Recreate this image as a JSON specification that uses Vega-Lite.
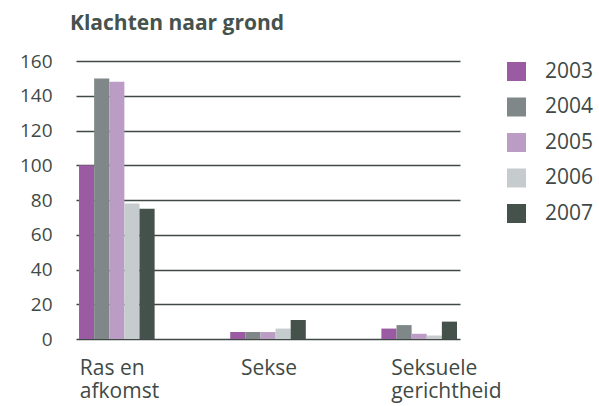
{
  "$schema": "https://vega.github.io/schema/vega-lite/v6.json",
  "width": 384,
  "height": 278,
  "autosize": "none",
  "padding": {"left": 76, "top": 61, "right": 139, "bottom": 67},
  "background": "white",
  "title": {"text": "Klachten naar grond", "anchor": "start", "frame": "group", "font": "Open Sans", "fontSize": 21, "fontWeight": "bold", "color": "#46524d", "dx": -6, "offset": 18},
  "config": {"view": {"stroke": null}},
  "data": {"values": [
    {"grond": "Ras en afkomst", "jaar": "2003", "aantal": 100},
    {"grond": "Ras en afkomst", "jaar": "2004", "aantal": 150},
    {"grond": "Ras en afkomst", "jaar": "2005", "aantal": 148},
    {"grond": "Ras en afkomst", "jaar": "2006", "aantal": 78},
    {"grond": "Ras en afkomst", "jaar": "2007", "aantal": 75},
    {"grond": "Sekse", "jaar": "2003", "aantal": 4},
    {"grond": "Sekse", "jaar": "2004", "aantal": 4},
    {"grond": "Sekse", "jaar": "2005", "aantal": 4},
    {"grond": "Sekse", "jaar": "2006", "aantal": 6},
    {"grond": "Sekse", "jaar": "2007", "aantal": 11},
    {"grond": "Seksuele gerichtheid", "jaar": "2003", "aantal": 6},
    {"grond": "Seksuele gerichtheid", "jaar": "2004", "aantal": 8},
    {"grond": "Seksuele gerichtheid", "jaar": "2005", "aantal": 3},
    {"grond": "Seksuele gerichtheid", "jaar": "2006", "aantal": 2},
    {"grond": "Seksuele gerichtheid", "jaar": "2007", "aantal": 10}
  ]},
  "mark": {"type": "bar"},
  "encoding": {
    "x": {
      "field": "grond", "type": "nominal",
      "sort": ["Ras en afkomst", "Sekse", "Seksuele gerichtheid"],
      "scale": {"paddingInner": 0.5, "paddingOuter": 0.02},
      "axis": {
        "title": null, "labelAngle": 0, "domain": false, "ticks": false,
        "labelFont": "Open Sans", "labelFontSize": 21, "labelColor": "#3f4a46",
        "labelAlign": "left", "labelBaseline": "top", "labelPadding": 18, "labelLineHeight": 23,
        "labelOffset": {"expr": "datum.value == 'Ras en afkomst' ? -37 : (datum.value == 'Sekse' ? -27 : -28)"},
        "labelExpr": "datum.value == 'Ras en afkomst' ? ['Ras en', 'afkomst'] : (datum.value == 'Seksuele gerichtheid' ? ['Seksuele', 'gerichtheid'] : datum.value)"
      }
    },
    "xOffset": {"field": "jaar", "type": "nominal", "scale": {"paddingInner": 0, "paddingOuter": 0}},
    "y": {
      "field": "aantal", "type": "quantitative",
      "scale": {"domain": [0, 160], "nice": false},
      "axis": {
        "title": null, "domain": false, "ticks": false, "grid": true,
        "values": [0, 20, 40, 60, 80, 100, 120, 140, 160],
        "gridColor": "#3f4a46", "gridWidth": 1.5, "gridOpacity": 1,
        "labelFont": "Open Sans", "labelFontSize": 19, "labelColor": "#3f4a46", "labelPadding": 24
      }
    },
    "color": {
      "field": "jaar", "type": "nominal",
      "scale": {"domain": ["2003", "2004", "2005", "2006", "2007"], "range": ["#9a5ba3", "#7f8788", "#bb9cc4", "#c6cbcd", "#45514b"]},
      "legend": {
        "title": null, "orient": "none", "legendX": 430, "legendY": 0,
        "symbolType": "square", "symbolSize": 361, "symbolStrokeWidth": 0, "symbolOpacity": 1,
        "labelFont": "Open Sans", "labelFontSize": 21, "labelColor": "#3f4a46", "labelOffset": 18,
        "rowPadding": 13.5
      }
    }
  }
}
